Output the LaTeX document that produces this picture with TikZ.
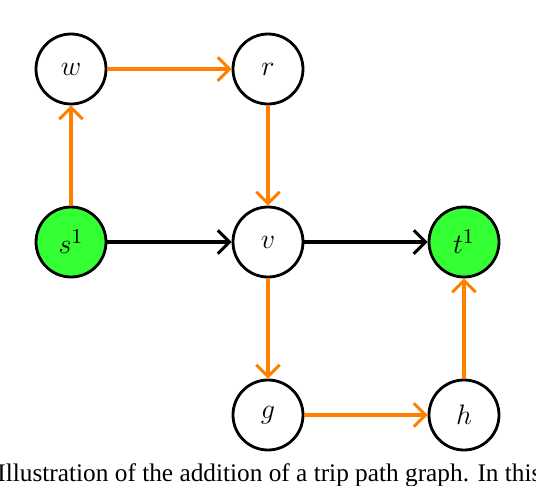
\documentclass[tikz,border=0pt]{standalone}
\usepackage{fontspec}
\setmainfont{Liberation Serif}
\usepackage{amsmath}
\usepackage{tikz}
\usetikzlibrary{arrows.meta,positioning}
\definecolor{tripcol}{RGB}{255,128,0}
\definecolor{termcol}{RGB}{51,255,51}
\tikzset{%
    vertex/.style={%
        draw, shape=circle, line width=1.2pt, minimum size=1.05cm, inner sep=0pt,
        font=\fontsize{13}{15}\selectfont
    },
    terminal/.style={%
        vertex, fill=termcol
    },
    arc/.style={%
        line width=1.3pt, -{Straight Barb[length=5pt,width=10pt]}
    },
    trip/.style={%
        arc, draw=tripcol
    }
}
\begin{document}
\begin{tikzpicture}[x=0.015cm,y=-0.015cm]
    \useasboundingbox[clip] (0,0) rectangle (536,486);
    \node[vertex] (w) at (71,69) {$w$};
    \node[vertex] (r) at (268,69) {$r$};
    \node[terminal] (s) at (71,242) {$s^1$};
    \node[vertex] (v) at (268,242) {$v$};
    \node[terminal] (t) at (464,242) {$t^1$};
    \node[vertex] (g) at (268,415) {$g$};
    \node[vertex] (h) at (464,415) {$h$};

    \draw[arc]
        (s) -- (v);
    \draw[arc]
        (v) -- (t);

    \draw[trip]
        (s) -- (w);
    \draw[trip]
        (w) -- (r);
    \draw[trip]
        (r) -- (v);
    \draw[trip]
        (v) -- (g);
    \draw[trip]
        (g) -- (h);
    \draw[trip]
        (h) -- (t);

    \node[anchor=base west, inner sep=0pt, font=\fontsize{10.8}{12}\selectfont] (caption) at (-3,481)
        {Illustration of the addition of a trip path graph. In this};
\end{tikzpicture}
\end{document}
